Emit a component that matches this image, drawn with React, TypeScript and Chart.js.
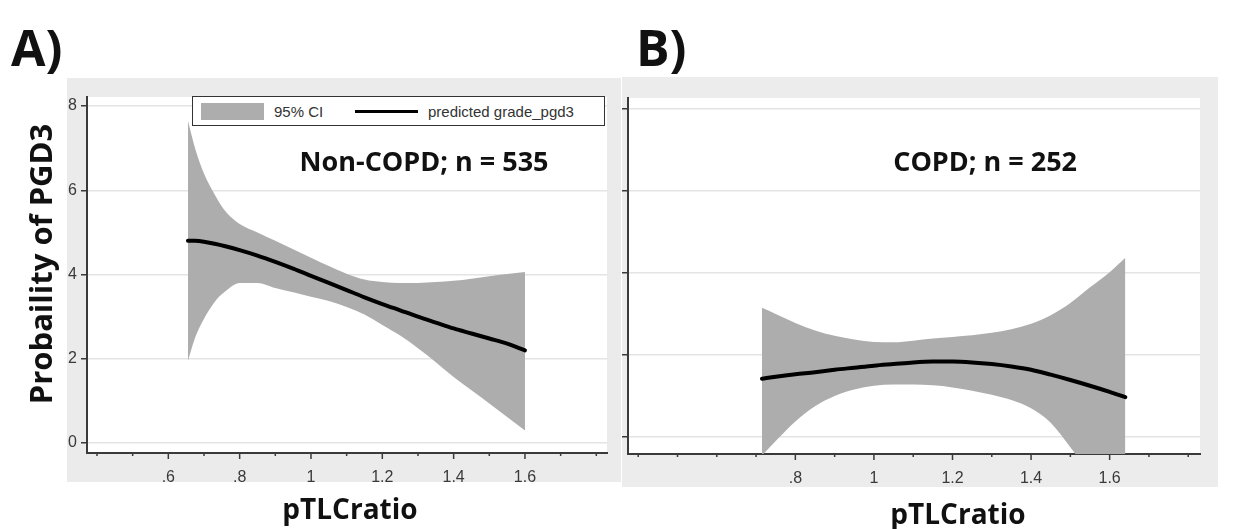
import React, { useEffect, useRef } from 'react';
import { Chart, registerables } from 'chart.js';

Chart.register(...registerables);

// ---------- data ----------
const LEFT_X = [0.655, 0.675, 0.7, 0.73, 0.76, 0.8, 0.85, 0.9, 0.95, 1.0, 1.05, 1.1, 1.15, 1.2, 1.25, 1.3, 1.35, 1.4, 1.45, 1.5, 1.55, 1.6];
const LEFT_UPPER = [7.65, 7.0, 6.4, 5.9, 5.5, 5.2, 5.0, 4.8, 4.6, 4.4, 4.2, 4.02, 3.88, 3.82, 3.8, 3.8, 3.82, 3.85, 3.9, 3.96, 4.01, 4.06];
const LEFT_PRED = [4.8, 4.8, 4.78, 4.73, 4.67, 4.58, 4.45, 4.3, 4.14, 3.97, 3.8, 3.63, 3.46, 3.3, 3.15, 3.0, 2.86, 2.72, 2.6, 2.48, 2.36, 2.2];
const LEFT_LOWER = [1.95, 2.5, 2.95, 3.35, 3.6, 3.8, 3.8, 3.68, 3.58, 3.47, 3.37, 3.23, 3.05, 2.8, 2.55, 2.25, 1.92, 1.57, 1.25, 0.94, 0.62, 0.3];

const RIGHT_X = [0.715, 0.75, 0.8, 0.85, 0.9, 0.95, 1.0, 1.05, 1.1, 1.15, 1.2, 1.25, 1.3, 1.35, 1.4, 1.45, 1.5, 1.55, 1.6, 1.64];
const RIGHT_UPPER = [3.15, 3.0, 2.78, 2.6, 2.47, 2.38, 2.32, 2.31, 2.35, 2.4, 2.44, 2.48, 2.54, 2.63, 2.76, 2.97, 3.27, 3.65, 4.02, 4.37];
const RIGHT_PRED = [1.42, 1.47, 1.53, 1.58, 1.64, 1.69, 1.74, 1.78, 1.82, 1.84, 1.84, 1.82, 1.78, 1.72, 1.64, 1.52, 1.39, 1.25, 1.1, 0.97];
const RIGHT_LOWER = [-0.45, -0.1, 0.38, 0.75, 1.0, 1.16, 1.25, 1.28, 1.28, 1.26, 1.21, 1.13, 1.03, 0.9, 0.7, 0.35, -0.25, -0.9, -1.5, -2.0];

const X_TICKS = [0.4, 0.5, 0.6, 0.7, 0.8, 0.9, 1.0, 1.1, 1.2, 1.3, 1.4, 1.5, 1.6, 1.7, 1.8];
const LEFT_X_LABELS = ['.6', '.8', '1', '1.2', '1.4', '1.6'];
const RIGHT_X_LABELS = ['.8', '1', '1.2', '1.4', '1.6'];
const Y_TICKS = [0, 2, 4, 6, 8];

const LEFT_NOTE = 'Non-COPD; n = 535';
const RIGHT_NOTE = 'COPD; n = 252';

// ---------- helpers ----------
const fmt = (v: number) => {
  const s = (Math.round(v * 10) / 10).toString();
  return s.startsWith('0.') ? s.slice(1) : s;
};

const TICK_FONT = { family: '"Liberation Sans", Arial, sans-serif', size: 16 };
const AXIS_COLOR = '#3a3a3a';
const CI_COLOR = '#adadad';

const plotBg = {
  id: 'plotBg',
  beforeDraw(chart: any) {
    const { ctx, chartArea } = chart;
    ctx.save();
    ctx.fillStyle = '#ffffff';
    ctx.fillRect(chartArea.left, chartArea.top, chartArea.right - chartArea.left, chartArea.bottom - chartArea.top);
    ctx.restore();
  },
};

const xTickMarks = {
  id: 'xTickMarks',
  afterDraw(chart: any, _args: any, opts: any) {
    const s = chart.scales.x;
    const ctx = chart.ctx;
    ctx.save();
    ctx.strokeStyle = AXIS_COLOR;
    ctx.lineWidth = 1.5;
    s.ticks.forEach((t: any) => {
      const px = s.getPixelForValue(t.value);
      const len = opts.labels.includes(fmt(t.value)) ? 6 : 3;
      ctx.beginPath();
      ctx.moveTo(px, s.top);
      ctx.lineTo(px, s.top + len);
      ctx.stroke();
    });
    ctx.restore();
  },
};

const noteText = {
  id: 'noteText',
  afterDraw(chart: any, _args: any, opts: any) {
    const { ctx } = chart;
    const x = chart.scales.x.getPixelForValue(opts.x);
    const y = chart.scales.y.getPixelForValue(opts.y);
    ctx.save();
    ctx.font = 'bold 27px "Open Sans", sans-serif';
    ctx.textAlign = 'center';
    ctx.textBaseline = 'middle';
    ctx.fillStyle = '#111';
    ctx.fillText(opts.text, x, y);
    ctx.restore();
  },
};

function makeConfig(p: {
  xs: number[]; upper: number[]; pred: number[]; lower: number[];
  xMin: number; xMax: number; yMin: number; yMax: number;
  yWidth: number; xHeight: number; padTop: number; padRight: number;
  labels: string[]; showY: boolean; note: string; noteX: number; noteY: number;
}): any {
  const pts = (ys: number[]) => p.xs.map((x, i) => ({ x, y: ys[i] }));
  return {
    type: 'line',
    data: {
      datasets: [
        { label: '95% CI', order: 2, data: pts(p.upper), borderWidth: 0, borderColor: 'transparent', pointRadius: 0, fill: '+1', backgroundColor: CI_COLOR, cubicInterpolationMode: 'monotone' },
        { label: 'lower', order: 3, data: pts(p.lower), borderWidth: 0, borderColor: 'transparent', pointRadius: 0, fill: false, cubicInterpolationMode: 'monotone' },
        { label: 'predicted grade_pgd3', order: 1, data: pts(p.pred), borderWidth: 4, borderColor: '#000', pointRadius: 0, fill: false, cubicInterpolationMode: 'monotone', borderCapStyle: 'round' },
      ],
    },
    options: {
      animation: false,
      responsive: false,
      events: [],
      layout: { padding: { left: 0, top: p.padTop, right: p.padRight, bottom: 0 } },
      plugins: {
        legend: { display: false },
        tooltip: { enabled: false },
        xTickMarks: { labels: p.labels },
        noteText: { text: p.note, x: p.noteX, y: p.noteY },
      },
      scales: {
        x: {
          type: 'linear',
          min: p.xMin,
          max: p.xMax,
          afterBuildTicks: (s: any) => { s.ticks = X_TICKS.map((v) => ({ value: v })); },
          afterFit: (s: any) => { s.height = p.xHeight; },
          grid: { display: false },
          border: { display: true, color: AXIS_COLOR, width: 2 },
          ticks: {
            autoSkip: false,
            maxRotation: 0,
            padding: 7,
            font: TICK_FONT,
            color: AXIS_COLOR,
            callback: (v: number) => (p.labels.includes(fmt(v)) ? fmt(v) : ''),
          },
        },
        y: {
          type: 'linear',
          min: p.yMin,
          max: p.yMax,
          afterBuildTicks: (s: any) => { s.ticks = Y_TICKS.map((v) => ({ value: v })); },
          afterFit: (s: any) => { s.width = p.yWidth; },
          grid: { color: '#e4e4e4', lineWidth: 1.5, tickColor: AXIS_COLOR, tickLength: 6, tickWidth: 1.5 },
          border: { display: true, color: AXIS_COLOR, width: 2 },
          ticks: {
            display: p.showY,
            padding: 4,
            font: TICK_FONT,
            color: AXIS_COLOR,
            callback: (v: number) => String(v),
          },
        },
      },
    },
    plugins: [plotBg, xTickMarks, noteText],
  };
}

const boldText: React.CSSProperties = {
  position: 'absolute',
  fontFamily: '"Open Sans", sans-serif',
  fontWeight: 700,
  lineHeight: 1,
  whiteSpace: 'nowrap',
  color: '#111',
};

export default function App() {
  const leftRef = useRef<HTMLCanvasElement>(null);
  const rightRef = useRef<HTMLCanvasElement>(null);

  useEffect(() => {
    const left = new Chart(leftRef.current as HTMLCanvasElement, makeConfig({
      xs: LEFT_X, upper: LEFT_UPPER, pred: LEFT_PRED, lower: LEFT_LOWER,
      xMin: 0.372, xMax: 1.83, yMin: -0.237, yMax: 8.214,
      yWidth: 87, xHeight: 76, padTop: 97, padRight: 13,
      labels: LEFT_X_LABELS, showY: true, note: LEFT_NOTE, noteX: 1.317, noteY: 6.65,
    }));
    const right = new Chart(rightRef.current as HTMLCanvasElement, makeConfig({
      xs: RIGHT_X, upper: RIGHT_UPPER, pred: RIGHT_PRED, lower: RIGHT_LOWER,
      xMin: 0.374, xMax: 1.83, yMin: -0.415, yMax: 8.27,
      yWidth: 8, xHeight: 75, padTop: 98, padRight: 38,
      labels: RIGHT_X_LABELS, showY: false, note: RIGHT_NOTE, noteX: 1.283, noteY: 6.68,
    }));
    return () => { left.destroy(); right.destroy(); };
  }, []);

  return (
    <div style={{ position: 'absolute', left: 0, top: 0, width: 1238, height: 529, background: '#fff', overflow: 'hidden' }}>
      <div style={{ position: 'absolute', left: 67, top: 78, width: 554, height: 404, background: '#ebebeb' }} />
      <div style={{ position: 'absolute', left: 622, top: 77, width: 596, height: 410, background: '#ececec' }} />
      <canvas ref={leftRef} width={620} height={529} style={{ position: 'absolute', left: 0, top: 0 }} />
      <canvas ref={rightRef} width={618} height={529} style={{ position: 'absolute', left: 620, top: 0 }} />

      {/* legend */}
      <div style={{ position: 'absolute', left: 192, top: 96, width: 411, height: 28, border: '1.5px solid #333', background: '#fff' }}>
        <div style={{ position: 'absolute', left: 8, top: 6, width: 63, height: 17, background: CI_COLOR }} />
        <div style={{ position: 'absolute', left: 81, top: 6, fontFamily: '"Liberation Sans", Arial, sans-serif', fontSize: 15, lineHeight: '17px', color: '#333' }}>95% CI</div>
        <div style={{ position: 'absolute', left: 162, top: 13, width: 63, height: 3, background: '#000' }} />
        <div style={{ position: 'absolute', left: 235, top: 6, fontFamily: '"Liberation Sans", Arial, sans-serif', fontSize: 15, lineHeight: '17px', color: '#333', whiteSpace: 'nowrap' }}>predicted grade_pgd3</div>
      </div>

      {/* panel labels and axis titles */}
      <div style={{ ...boldText, left: 11, top: 22, fontSize: 50 }}>A)</div>
      <div style={{ ...boldText, left: 636, top: 22, fontSize: 50 }}>B)</div>
      <div style={{ ...boldText, left: 40, top: 264, fontSize: 31, transform: 'translate(-50%, -50%) rotate(-90deg)' }}>Probaility of PGD3</div>
      <div style={{ ...boldText, left: 350, top: 508, fontSize: 28, transform: 'translate(-50%, -50%)' }}>pTLCratio</div>
      <div style={{ ...boldText, left: 958, top: 513, fontSize: 28, transform: 'translate(-50%, -50%)' }}>pTLCratio</div>
    </div>
  );
}
